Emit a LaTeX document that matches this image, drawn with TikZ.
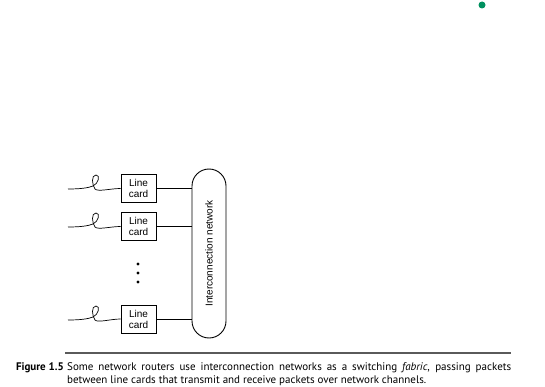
\documentclass[tikz,border=0pt]{standalone}
\usepackage{fontspec}
\setmainfont{Liberation Sans}
\newfontfamily\captionfont{PT Sans}
\usepackage{tikz}

\definecolor{markgreen}{RGB}{0,145,95}
\definecolor{rulegray}{RGB}{90,90,90}

\begin{document}
\begin{tikzpicture}[
    x=1pt, y=-1pt,
    card/.style={draw, rectangle, line width=0.9pt, minimum width=35pt, minimum height=28pt, inner sep=0pt, align=center, font=\fontsize{10}{11}\selectfont},
    fabric/.style={draw, rectangle, rounded corners=17pt, line width=0.9pt, minimum width=169pt, minimum height=34pt, rotate=90, font=\fontsize{10}{11}\selectfont},
    wire/.style={line width=0.7pt},
    link/.style={line width=0.7pt},
    dot/.style={circle, fill=black, inner sep=0pt, minimum size=3.4pt}
]
    \useasboundingbox (0,0) rectangle (545,387);

    % Corner mark
    \node[circle, fill=markgreen, inner sep=0pt, minimum size=7pt] (mark) at (482,5) {};

    % Line cards
    \node[card] (card1) at (138.5,188.5) {Line\\card};
    \node[card] (card2) at (138.5,226.5) {Line\\card};
    \node[card] (card3) at (138.5,319) {Line\\card};

    % Dots
    \node[dot] (dot1) at (138,264) {};
    \node[dot] (dot2) at (138,273) {};
    \node[dot] (dot3) at (138,282) {};

    % Interconnection network
    \node[fabric] (net) at (209,253.5) {Interconnection network};

    % Channel ends
    \coordinate (in1) at (68,189);
    \coordinate (in2) at (68,227);
    \coordinate (in3) at (68,320);

    % Channels with loops
    \draw[wire] (in1) .. controls +(12,0) and +(-5,2) .. ++(25,-3)
        .. controls +(5,-2) and +(5,0) .. ++(3,-11)
        .. controls +(-5,0) and +(-3,-4) .. ++(-1,14)
        .. controls +(3,3) and +(-10,0) .. (card1.west);
    \draw[wire] (in2) .. controls +(12,0) and +(-5,2) .. ++(25,-3)
        .. controls +(5,-2) and +(5,0) .. ++(3,-11)
        .. controls +(-5,0) and +(-3,-4) .. ++(-1,14)
        .. controls +(3,3) and +(-10,0) .. (card2.west);
    \draw[wire] (in3) .. controls +(12,0) and +(-5,2) .. ++(25,-3)
        .. controls +(5,-2) and +(5,0) .. ++(3,-11)
        .. controls +(-5,0) and +(-3,-4) .. ++(-1,14)
        .. controls +(3,3) and +(-10,0) .. (card3.west);

    % Links to the network
    \draw[link] (card1.east) -- (card1.east -| net.north);
    \draw[link] (card2.east) -- (card2.east -| net.north);
    \draw[link] (card3.east) -- (card3.east -| net.north);

    % Caption
    \coordinate (ruleL) at (65,353);
    \coordinate (ruleR) at (511,353);
    \draw[rulegray, line width=1.4pt] (ruleL) -- (ruleR);
    \node[anchor=base east, inner sep=0pt, font=\captionfont\bfseries\fontsize{11}{13}\selectfont] (figlabel) at (64,370.5) {Figure 1.5};
    \node[anchor=base west, inner sep=0pt, text width=444pt, align=justify, font=\captionfont\fontsize{11}{13}\selectfont] (caption) at (67,370.5)
        {Some network routers use interconnection networks as a switching \textit{fabric}, passing packets\linebreak between line cards that transmit and receive packets over network channels.};

\end{tikzpicture}
\end{document}
